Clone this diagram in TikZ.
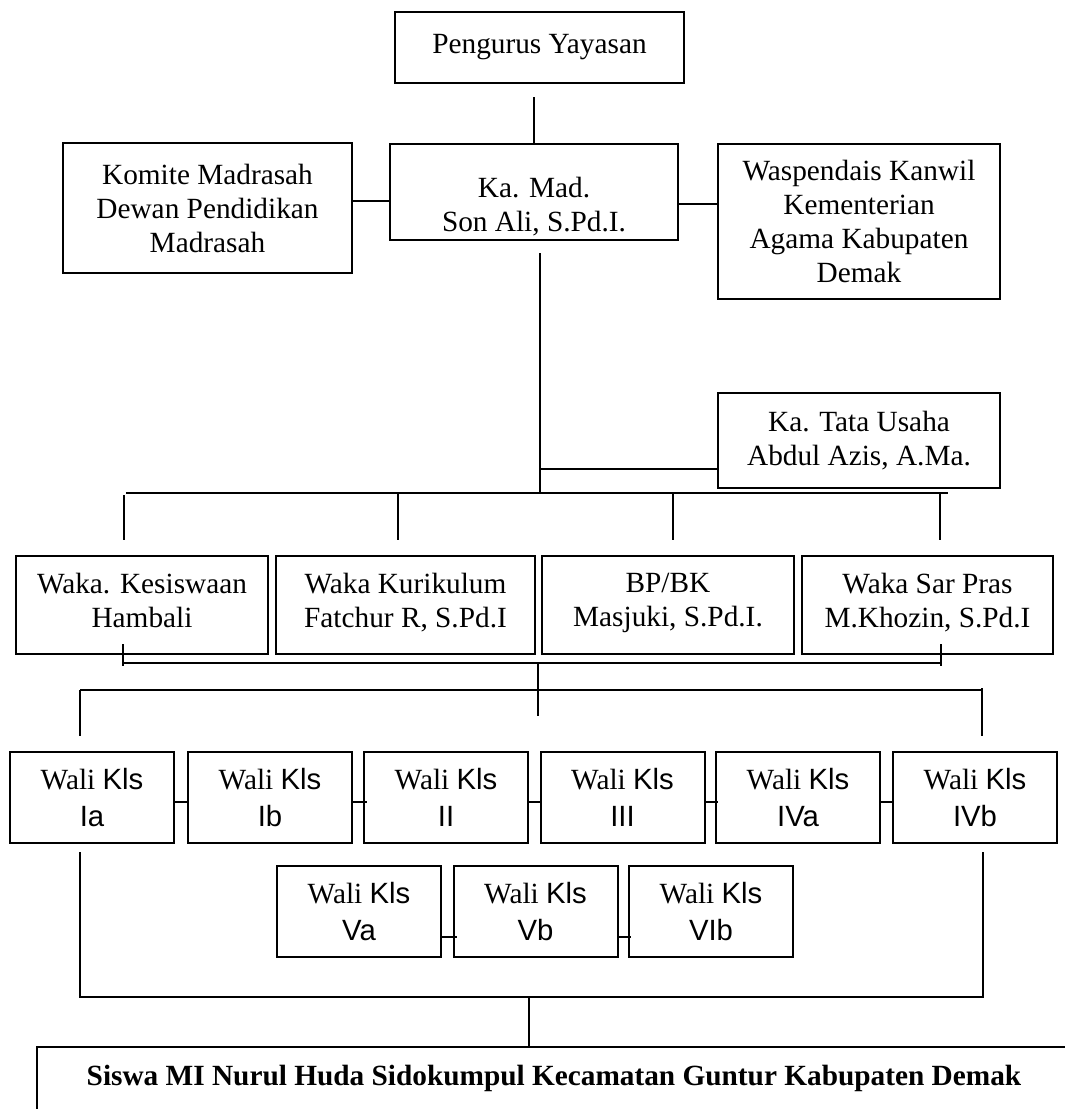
\documentclass[tikz,border=0pt]{standalone}
\usepackage{fontspec}
\setmainfont{Liberation Serif}
\newfontfamily\arialf{Liberation Sans}
\usetikzlibrary{calc}
\tikzset{
  box/.style={draw, line width=2pt, align=center, inner sep=0pt,
    font=\fontsize{29.3}{34}\selectfont},
  walibox/.style={box, minimum width=164pt, minimum height=91pt,
    font=\fontsize{29.3}{37}\selectfont},
  wakabox/.style={box, minimum height=98pt,
    execute at begin node=\strut, execute at end node=\strut},
  conn/.style={line width=2pt},
}
\begin{document}
\begin{tikzpicture}[x=1pt,y=-1pt]
\useasboundingbox (0,0) rectangle (1065,1109);
\fill[white] (0,0) rectangle (1065,1109);
\begin{scope}
\clip (0,0) rectangle (1065,1109);

% top level
\node[box, minimum width=289pt, minimum height=71pt] (peng) at (539.5,47.5) {Pengurus Yayasan};
\node[box, minimum width=288pt, minimum height=96pt] (kamad) at (534,192) {\rule{0pt}{50pt}Ka. Mad.\\Son Ali, S.Pd.I.};
\node[box, minimum width=289pt, minimum height=130pt] (komite) at (207.5,208) {Komite Madrasah\\Dewan Pendidikan\\Madrasah};
\node[box, minimum width=282pt, minimum height=155pt] (wasp) at (859,221.5) {Waspendais Kanwil\\Kementerian\\Agama Kabupaten\\Demak};
\node[box, minimum width=282pt, minimum height=95pt] (tu) at (859,440.5) {Ka. Tata Usaha\\Abdul Azis, A.Ma.};

% waka row
\node[wakabox, minimum width=252pt] (kes) at (142,605) {Waka. Kesiswaan\\Hambali};
\node[wakabox, minimum width=259pt] (kur) at (405.5,605) {Waka Kurikulum\\Fatchur R, S.Pd.I};
\node[wakabox, minimum width=252pt] (bp) at (668,605) {BP/BK\\Masjuki, S.Pd.I.};
\node[wakabox, minimum width=251pt] (sar) at (927.5,605) {Waka Sar Pras\\M.Khozin, S.Pd.I};

% wali rows
\node[walibox] (ia)  at (92,797.5)  {Wali {\arialf Kls}\\{\arialf Ia}};
\node[walibox] (ib)  at (270,797.5) {Wali {\arialf Kls}\\{\arialf Ib}};
\node[walibox] (ii)  at (446,797.5) {Wali {\arialf Kls}\\{\arialf II}};
\node[walibox] (iii) at (622.5,797.5) {Wali {\arialf Kls}\\{\arialf III}};
\node[walibox] (iva) at (798,797.5) {Wali {\arialf Kls}\\{\arialf IVa}};
\node[walibox] (ivb) at (975,797.5) {Wali {\arialf Kls}\\{\arialf IVb}};
\node[walibox] (va)  at (359,911.5) {Wali {\arialf Kls}\\{\arialf Va}};
\node[walibox] (vb)  at (535.5,911.5) {Wali {\arialf Kls}\\{\arialf Vb}};
\node[walibox] (vib) at (711,911.5) {Wali {\arialf Kls}\\{\arialf VIb}};

% students box (runs off the page)
\node[box, anchor=north west, minimum width=1034pt, minimum height=90pt] (siswa) at (36,1046)
  {\raisebox{7pt}[0pt][0pt]{\bfseries Siswa MI Nurul Huda Sidokumpul Kecamatan Guntur Kabupaten Demak}};

% connectors top
\draw[conn, shorten <=13pt] (peng.south -| kamad.north) -- (kamad.north);
\draw[conn] ([yshift=-9pt]kamad.west) -- ([yshift=-9pt]kamad.west -| komite.east);
\draw[conn] ([yshift=-12pt]kamad.east) -- ([yshift=-12pt]kamad.east -| wasp.west);

\coordinate (trunktop) at (540,253);
\coordinate (jtu) at (540,469);
\coordinate (jbus) at (540,493);
\draw[conn] (trunktop) -- (jbus);
\draw[conn] (jtu) -- (jtu -| tu.west);

% bus to waka
\coordinate (b1l) at (126,493);
\coordinate (b1r) at (948,493);
\draw[conn] (b1l) -- (b1r);
\coordinate (d1) at (124,493);
\coordinate (d2) at (398,493);
\coordinate (d3) at (673,493);
\coordinate (d4) at (940,493);
\draw[conn, shorten >=15pt] ([yshift=-2pt]d1) -- (d1 |- kes.north);
\draw[conn, shorten >=15pt] (d2) -- (d2 |- kur.north);
\draw[conn, shorten >=15pt] (d3) -- (d3 |- bp.north);
\draw[conn, shorten >=15pt] (d4) -- (d4 |- sar.north);

% connector under waka row
\coordinate (k1t) at (123,644);
\coordinate (k1b) at (123,666);
\coordinate (k2t) at (941,644);
\coordinate (k2b) at (941,666);
\coordinate (kl) at (123,663);
\coordinate (kr) at (941,663);
\draw[conn] (k1t) -- (k1b);
\draw[conn] (k2t) -- (k2b);
\draw[conn] (kl) -- (kr);
\coordinate (mc1) at (538,663);
\coordinate (mc2) at (538,716);
\draw[conn] (mc1) -- (mc2);

% bus to wali row
\coordinate (b2l) at (80,690);
\coordinate (b2r) at (982,690);
\draw[conn] (b2l) -- (b2r);
\draw[conn, shorten >=15pt] (b2l) -- (b2l |- ia.north);
\draw[conn, shorten >=15pt] ([yshift=2pt]b2r) -- (b2r |- ivb.north);

% wali row links
\draw[conn] ([yshift=-4.5pt]ia.east) -- ([yshift=-4.5pt]ib.west);
\draw[conn] ([yshift=-4.5pt]ib.east) -- ([yshift=-4.5pt,xshift=4pt]ii.west);
\draw[conn] ([yshift=-4.5pt,xshift=-2pt]ii.east) -- ([yshift=-4.5pt]iii.west);
\draw[conn] ([yshift=-4.5pt]iii.east) -- ([yshift=-4.5pt,xshift=3pt]iva.west);
\draw[conn] ([yshift=-4.5pt,xshift=-2pt]iva.east) -- ([yshift=-4.5pt]ivb.west);
\draw[conn] ([yshift=-25.5pt]va.east) -- ([yshift=-25.5pt,xshift=4pt]vb.west);
\draw[conn] ([yshift=-25.5pt]vb.east) -- ([yshift=-25.5pt,xshift=3pt]vib.west);

% outer bracket to students
\coordinate (o1) at (80,852);
\coordinate (o2) at (80,997);
\coordinate (o3) at (983,997);
\coordinate (o4) at (983,852);
\draw[conn] (o1) -- (o2) -- (o3) -- (o4);
\coordinate (sj) at (529,997);
\draw[conn] (sj) -- (sj |- siswa.north);
\end{scope}
\end{tikzpicture}
\end{document}
